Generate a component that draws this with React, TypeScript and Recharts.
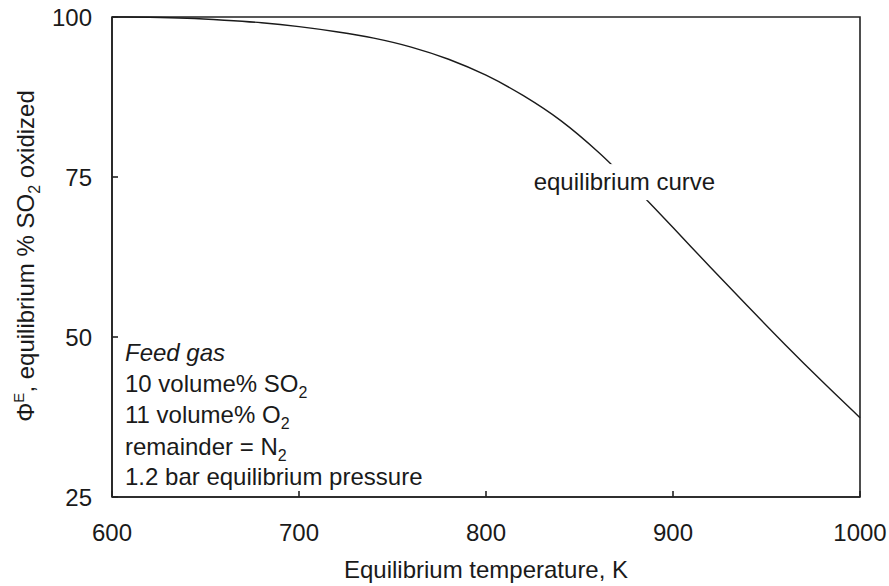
import { LineChart, Line, XAxis, YAxis, ReferenceArea, ReferenceDot } from "recharts"

// temperatura de equilibrio (K) y % de SO2 oxidado
const temps = [600, 620, 640, 660, 680, 700, 720, 740, 760, 780, 800, 820, 840, 860, 880, 900, 920, 940, 960, 980, 1000]
const phiE = [100, 99.95, 99.8, 99.5, 99.1, 98.5, 97.7, 96.7, 95.3, 93.4, 90.9, 87.7, 83.8, 78.9, 73.2, 67.1, 60.9, 54.8, 48.8, 43.0, 37.4]

const xTicks = [600, 700, 800, 900, 1000]
const yTicks = [25, 50, 75, 100]

const feedGas = ["10 volume% SO", "11 volume% O", "remainder = N"]

const data = temps.map((t, i) => ({ t, phi: phiE[i] }))

const FONT = '"Liberation Sans", Arial, sans-serif'
const INK = "#1a1a1a"

function YLabel() {
  return (
    <text
      x={34}
      y={256}
      transform="rotate(-90, 34, 256)"
      textAnchor="middle"
      fontFamily={FONT}
      fontSize={24}
      fill={INK}
    >
      Φ
      <tspan dy={-10} fontSize={15}>E</tspan>
      <tspan dy={10}>, equilibrium % SO</tspan>
      <tspan dy={6} fontSize={16}>2</tspan>
      <tspan dy={-6}> oxidized</tspan>
    </text>
  )
}

// Bloque de texto con la composición del gas de alimentación
function FeedGasNote({ cx, cy }: { cx?: number; cy?: number }) {
  const x = (cx ?? 0) + 13
  const y0 = cy ?? 0
  const subs = ["2", "2", "2"]
  return (
    <g fontFamily={FONT} fontSize={24} fill={INK}>
      <text x={x} y={y0 - 136} fontStyle="italic">Feed gas</text>
      {feedGas.map((s, i) => (
        <text key={s} x={x} y={y0 - 105 + i * 31.3}>
          {s}
          <tspan dy={6} fontSize={16}>{subs[i]}</tspan>
        </text>
      ))}
      <text x={x} y={y0 - 12}>1.2 bar equilibrium pressure</text>
    </g>
  )
}

function CurveLabel({ cx, cy }: { cx?: number; cy?: number }) {
  const x = cx ?? 0
  const y = cy ?? 0
  return (
    <g>
      <rect x={x - 95} y={y - 18} width={190} height={36} fill="#fff" />
      <text x={x} y={y + 8} textAnchor="middle" fontFamily={FONT} fontSize={24} fill={INK}>
        equilibrium curve
      </text>
    </g>
  )
}

export default function App() {
  return (
    <div style={{ position: "absolute", left: 0, top: 0, background: "#fff" }}>
      <LineChart width={889} height={586} data={data} margin={{ top: 17, right: 29, bottom: 0, left: 0 }}>
        <XAxis
          dataKey="t"
          type="number"
          domain={[600, 1000]}
          ticks={xTicks}
          height={89}
          stroke="#222"
          strokeWidth={1.6}
          tickSize={-6}
          tickMargin={33}
          tick={{ fontSize: 24, fill: INK, fontFamily: FONT }}
          label={{
            value: "Equilibrium temperature, K",
            position: "insideBottom",
            offset: 8,
            style: { fontSize: 24, fill: INK, fontFamily: FONT },
          }}
        />
        <YAxis
          type="number"
          domain={[25, 100]}
          ticks={yTicks}
          width={112}
          stroke="#222"
          strokeWidth={1.6}
          tickSize={-6}
          tickMargin={26}
          tick={{ fontSize: 24, fill: INK, fontFamily: FONT }}
          label={{ content: () => <YLabel /> }}
        />
        <ReferenceArea
          x1={600}
          x2={1000}
          y1={25}
          y2={100}
          fill="none"
          fillOpacity={0}
          stroke="#222"
          strokeWidth={1.6}
          ifOverflow="visible"
        />
        <Line
          type="monotone"
          dataKey="phi"
          stroke={INK}
          strokeWidth={1.4}
          dot={false}
          activeDot={false}
          isAnimationActive={false}
        />
        <ReferenceDot x={874} y={74.2} r={0} ifOverflow="visible" shape={(p: any) => <CurveLabel cx={p.cx} cy={p.cy} />} />
        <ReferenceDot x={600} y={25} r={0} ifOverflow="visible" shape={(p: any) => <FeedGasNote cx={p.cx} cy={p.cy} />} />
      </LineChart>
    </div>
  )
}
